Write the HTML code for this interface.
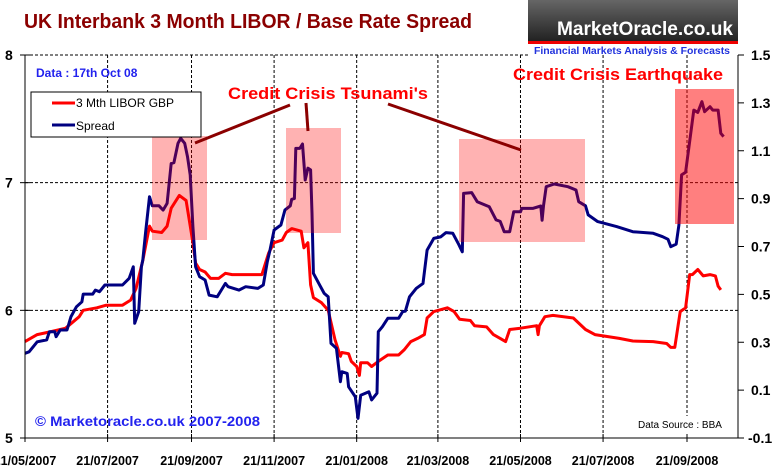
<!DOCTYPE html>
<html><head><meta charset="utf-8"><style>
html,body{margin:0;padding:0;background:#fff;}
svg{display:block;font-family:"Liberation Sans",Arial,sans-serif;}
</style></head><body>
<svg id="chart" width="781" height="476" viewBox="0 0 781 476">
<text x="24" y="28" font-size="20" font-weight="bold" fill="#8B0000" textLength="448" lengthAdjust="spacingAndGlyphs">UK Interbank 3 Month LIBOR / Base Rate Spread</text>
<g>
<defs><linearGradient id="lg" x1="0" y1="0" x2="0" y2="1"><stop offset="0" stop-color="#666"/><stop offset="1" stop-color="#222"/></linearGradient></defs>
<rect x="528" y="0" width="210" height="41" fill="url(#lg)"/>
<rect x="528" y="41" width="210" height="3" fill="#e00"/>
<text x="557" y="35" font-size="19" font-weight="bold" fill="#fff" textLength="176" lengthAdjust="spacingAndGlyphs">MarketOracle.co.uk</text>
<text x="534" y="54" font-size="10" font-weight="bold" fill="#2233dd" textLength="196" lengthAdjust="spacingAndGlyphs">Financial Markets Analysis &amp; Forecasts</text>
</g>
<g id="grid"></g>
<g id="lines"></g>
<g id="boxes"></g>
<g id="axes"></g>
<g>
<line x1="290" y1="105" x2="195" y2="143" stroke="#8B0000" stroke-width="3"/>
<line x1="306" y1="103" x2="308" y2="131" stroke="#8B0000" stroke-width="3"/>
<line x1="388" y1="104" x2="521" y2="150" stroke="#8B0000" stroke-width="3"/>
<text x="228" y="99" font-size="17" font-weight="bold" fill="#f00" textLength="200" lengthAdjust="spacingAndGlyphs">Credit Crisis Tsunami's</text>
<text x="513" y="80" font-size="17" font-weight="bold" fill="#f00" textLength="210" lengthAdjust="spacingAndGlyphs">Credit Crisis Earthquake</text>
<text x="36" y="77" font-size="12" font-weight="bold" fill="#2222ee">Data : 17th Oct  08</text>
<text x="35" y="426" font-size="14" font-weight="bold" fill="#2222ee" textLength="225" lengthAdjust="spacingAndGlyphs">© Marketoracle.co.uk  2007-2008</text>
<text x="638" y="428" font-size="10" fill="#000">Data Source : BBA</text>
</g>
<g>
<rect x="31" y="92" width="170" height="45" fill="#fff" stroke="#000" stroke-width="1"/>
<line x1="52" y1="103" x2="75" y2="103" stroke="#f00" stroke-width="3"/>
<text x="76" y="107" font-size="12" fill="#000">3 Mth LIBOR GBP</text>
<line x1="52" y1="125" x2="75" y2="125" stroke="#000080" stroke-width="3"/>
<text x="76" y="130" font-size="12" fill="#000">Spread</text>
</g>
</svg>
<script>
// days since 21/05/2007
const liborDays=[0,9,18,30,40,43,53,60,72,78,82,87,92,94,101,105,108,114,119,121,124,126,129,133,137,143,148,153,165,175,180,184,190,193,197,204,206,209,211,213,219,224,229,233,234,239,241,245,247,248,253,256,261,268,276,280,285,290,295,297,302,312,317,321,329,332,341,346,351,355,358,366,378,379,380,384,390,405,414,421,427,439,449,464,474,477,480,484,488,491,493,497,501,506,510,512,514];
const liborValues=[5.755,5.81,5.83,5.86,5.95,6.0,6.02,6.04,6.04,6.08,6.17,6.39,6.66,6.62,6.61,6.66,6.80,6.90,6.86,6.73,6.53,6.37,6.32,6.30,6.25,6.25,6.29,6.28,6.28,6.28,6.45,6.53,6.55,6.61,6.64,6.62,6.49,6.53,6.20,6.10,6.06,6.0,5.77,5.64,5.67,5.66,5.60,5.56,5.49,5.59,5.59,5.56,5.60,5.65,5.65,5.69,5.755,5.78,5.81,5.94,5.99,6.02,5.99,5.93,5.92,5.88,5.87,5.81,5.78,5.755,5.85,5.86,5.88,5.81,5.88,5.95,5.96,5.94,5.85,5.81,5.80,5.78,5.76,5.755,5.74,5.71,5.71,5.99,6.02,6.28,6.28,6.32,6.27,6.28,6.27,6.19,6.16];
const spreadDays=[0,3,9,16,18,22,23,26,31,34,38,42,43,50,52,55,59,72,77,80,81,84,86,87,89,92,94,99,102,105,108,110,113,115,118,120,122,124,126,129,133,136,142,145,148,150,158,163,172,176,179,181,184,189,192,196,197,199,200,203,205,207,209,211,212,213,217,221,224,226,230,233,234,238,239,244,246,248,254,256,260,261,264,268,276,279,281,284,289,294,297,302,307,311,316,320,323,324,330,334,343,348,351,354,358,361,366,367,375,381,382,383,385,391,401,407,409,414,416,423,437,449,464,471,475,477,481,483,485,488,494,497,500,502,506,508,512,514,516];
const spreadValues=[0.254,0.26,0.302,0.31,0.344,0.344,0.323,0.351,0.351,0.407,0.448,0.469,0.501,0.501,0.518,0.511,0.539,0.539,0.567,0.615,0.379,0.428,0.615,0.643,0.755,0.908,0.87,0.87,0.852,0.88,1.047,1.05,1.131,1.152,1.131,1.075,0.999,0.783,0.615,0.574,0.56,0.497,0.49,0.518,0.546,0.532,0.518,0.532,0.525,0.539,0.636,0.685,0.769,0.79,0.852,0.87,0.897,0.9,1.11,1.11,1.128,0.978,1.027,1.02,0.839,0.588,0.546,0.504,0.49,0.295,0.275,0.135,0.177,0.17,0.114,0.072,-0.018,0.079,0.093,0.059,0.087,0.344,0.365,0.4,0.4,0.428,0.43,0.49,0.525,0.546,0.685,0.734,0.74,0.758,0.755,0.713,0.678,0.922,0.925,0.887,0.866,0.811,0.805,0.762,0.762,0.845,0.845,0.859,0.859,0.869,0.81,0.87,0.95,0.961,0.95,0.936,0.887,0.87,0.832,0.804,0.783,0.762,0.755,0.741,0.73,0.699,0.71,0.79,0.999,1.01,1.27,1.26,1.305,1.263,1.284,1.27,1.27,1.173,1.159];
const leftTicks=[8,7,6,5];
const rightTicks=[1.5,1.3,1.1,0.9,0.7,0.5,0.3,0.1,-0.1];
const rightTickLabels=["1.5","1.3","1.1","0.9","0.7","0.5","0.3","0.1","-0.1"];
const dateTickDays=[0,61,123,184,245,305,366,427,489];
const dateTickLabels=["21/05/2007","21/07/2007","21/09/2007","21/11/2007","21/01/2008","21/03/2008","21/05/2008","21/07/2008","21/09/2008"];

const L=25,R=738,T=55,B=438;
const xS=d=>L+d*(687-L)/489;
const yL=v=>T+(8-v)*(B-T)/3;
const yR=v=>T+(1.5-v)*(B-T)/1.6;
const NS='http://www.w3.org/2000/svg';
function mk(tag,parent,attrs){const e=document.createElementNS(NS,tag);for(const k in attrs)e.setAttribute(k,attrs[k]);parent.appendChild(e);return e;}
const grid=document.getElementById('grid'),lines=document.getElementById('lines'),boxes=document.getElementById('boxes'),axes=document.getElementById('axes');
[8,7,6].forEach(v=>{const g=mk('line',grid,{x1:L,x2:v===8?528:R,y1:yL(v),y2:yL(v),stroke:'#000','stroke-width':1,'stroke-dasharray':'3,2'});

});
dateTickDays.forEach((d,i)=>{if(i===0)return;const g=mk('line',grid,{x1:xS(d),x2:xS(d),y1:T,y2:i===8?416:B,stroke:'#000','stroke-width':1,'stroke-dasharray':'3,2'});

});
function path(days,vals,yf,color,name){let d='';days.forEach((t,i)=>{d+=(i?'L':'M')+xS(t).toFixed(1)+','+yf(vals[i]).toFixed(1);});
const p=mk('path',lines,{d:d,fill:'none',stroke:color,'stroke-width':3,'stroke-linejoin':'round'});

}
path(liborDays,liborValues,yL,'#ff0000','libor-line');
path(spreadDays,spreadValues,yR,'#000080','spread-line');
[[152,136,55,104,0.3],[286,128,55,105,0.3],[459,139,126,103,0.3],[675,89,59,135,0.5]].forEach(b=>{const r=mk('rect',boxes,{x:b[0],y:b[1],width:b[2],height:b[3],fill:'#ff0000','fill-opacity':b[4]});

});
mk('line',axes,{x1:L,x2:L,y1:T,y2:B,stroke:'#000','stroke-width':1});
mk('line',axes,{x1:R,x2:R,y1:T,y2:B,stroke:'#000','stroke-width':1});
mk('line',axes,{x1:L,x2:R,y1:B,y2:B,stroke:'#000','stroke-width':1});
leftTicks.forEach(v=>{mk('line',axes,{x1:L-5,x2:L+5,y1:yL(v),y2:yL(v),stroke:'#000'});
const t=mk('text',axes,{x:5,y:yL(v)+5,'font-size':14,'font-weight':'bold'});t.textContent=v;

});
rightTicks.forEach((v,i)=>{mk('line',axes,{x1:R,x2:R+6,y1:yR(v),y2:yR(v),stroke:'#000'});
const t=mk('text',axes,{x:rightTickLabels[i][0]==='-'?748:751,y:yR(v)+5,'font-size':14,'font-weight':'bold'});t.textContent=rightTickLabels[i];

});
dateTickDays.forEach((d,i)=>{mk('line',axes,{x1:xS(d),x2:xS(d),y1:B-4,y2:B+4,stroke:'#000'});
const t=mk('text',axes,{x:xS(d),y:465,'font-size':12.5,'font-weight':'bold','text-anchor':'middle'});t.textContent=dateTickLabels[i];

});
</script>
</body></html>
